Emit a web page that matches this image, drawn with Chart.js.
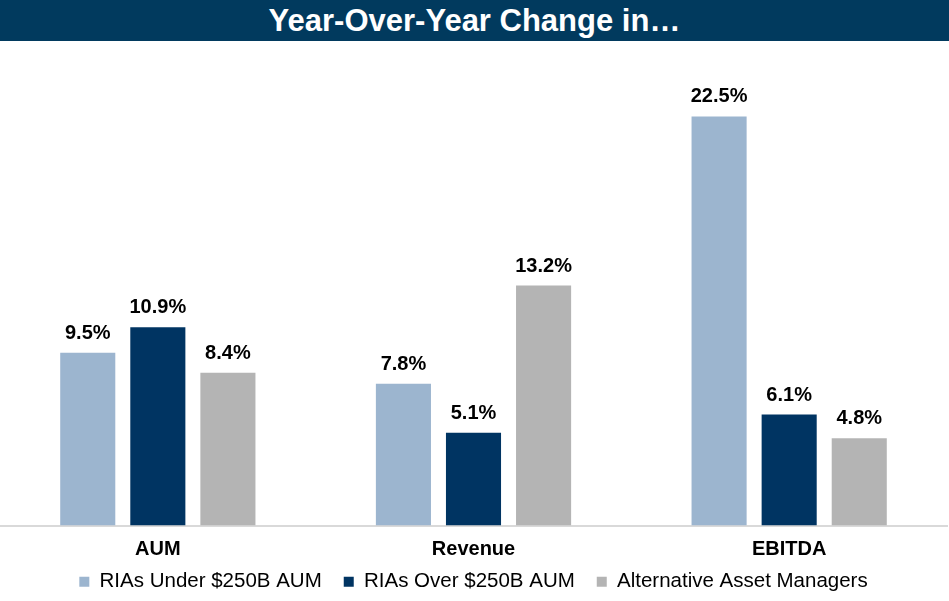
<!DOCTYPE html>
<html>
<head>
<meta charset="utf-8">
<script src="https://cdn.jsdelivr.net/npm/chart.js@4.4.1/dist/chart.umd.min.js"></script>
<style>
  html, body { margin: 0; padding: 0; background: #fff; overflow: hidden; }
  #title-bar {
    width: 949px; height: 41px; line-height: 41px;
    background: #013a5e; color: #fff;
    font-family: "Liberation Sans", Arial, sans-serif;
    font-weight: bold; font-size: 31px; text-align: center;
  }
  #wrap { width: 949px; height: 561px; }
</style>
</head>
<body>
<div id="title-bar">Year-Over-Year Change in…</div>
<div id="wrap"><canvas id="yoyChart" width="949" height="561"></canvas></div>
<script>
// --- DATA ---
const categories = ['AUM', 'Revenue', 'EBITDA'];
const seriesNames = ['RIAs Under $250B AUM', 'RIAs Over $250B AUM', 'Alternative Asset Managers'];
const riasUnder = [9.5, 7.8, 22.5];
const riasOver = [10.9, 5.1, 6.1];
const altManagers = [8.4, 13.2, 4.8];

const FONT = '"Liberation Sans", Arial, sans-serif';

// value labels above each bar
const barLabels = {
  id: 'barLabels',
  afterDatasetsDraw(chart) {
    const ctx = chart.ctx;
    ctx.save();
    ctx.font = 'bold 20px ' + FONT;
    ctx.fillStyle = '#000';
    ctx.textAlign = 'center';
    ctx.textBaseline = 'alphabetic';
    chart.data.datasets.forEach((ds, i) => {
      chart.getDatasetMeta(i).data.forEach((bar, j) => {
        ctx.fillText(ds.data[j].toFixed(1) + '%', bar.x, bar.y - 14);
      });
    });
    ctx.restore();
  }
};

new Chart(document.getElementById('yoyChart'), {
  type: 'bar',
  data: {
    labels: categories,
    datasets: [
      { label: seriesNames[0], data: riasUnder, backgroundColor: '#9cb5cf' },
      { label: seriesNames[1], data: riasOver, backgroundColor: '#003462' },
      { label: seriesNames[2], data: altManagers, backgroundColor: '#b4b4b4' }
    ]
  },
  options: {
    responsive: false,
    animation: false,
    layout: { padding: { left: 0, right: 2, top: 30, bottom: 0 } },
    datasets: { bar: { categoryPercentage: 0.666, barPercentage: 0.786 } },
    scales: {
      x: {
        grid: { display: false, drawTicks: false },
        border: { display: true, color: '#d9d9d9', width: 2 },
        // mirrored with negative padding: labels sit below the axis but are not clipped
        ticks: { color: '#000', mirror: true, padding: -34, font: { family: FONT, size: 20, weight: 'bold', lineHeight: 1 } },
        afterFit(scale) { scale.height = 24; }
      },
      y: { display: false, min: 0, max: 25 }
    },
    plugins: {
      tooltip: { enabled: false },
      legend: {
        position: 'bottom',
        labels: {
          color: '#000',
          usePointStyle: true,
          pointStyle: 'rect',
          boxWidth: 10,
          boxHeight: 10,
          padding: 22,
          font: { family: FONT, size: 20.5 }
        }
      }
    }
  },
  plugins: [barLabels]
});
</script>
</body>
</html>
